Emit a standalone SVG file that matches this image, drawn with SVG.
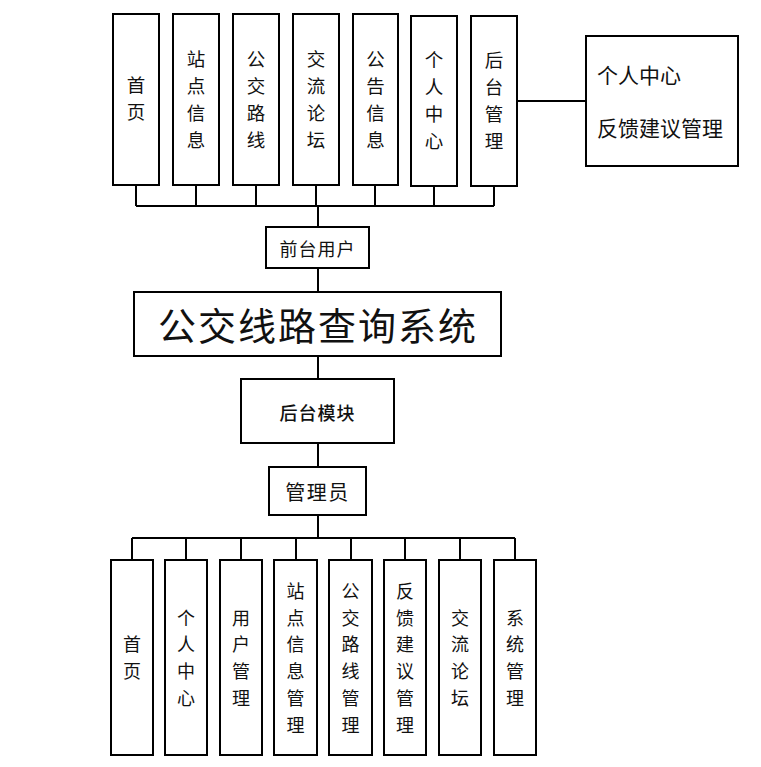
<svg xmlns="http://www.w3.org/2000/svg" width="761" height="767" viewBox="0 0 761 767">
<style>
.box{fill:#fff;stroke:#000;stroke-width:2}
.ln{fill:none;stroke:#000;stroke-width:2}
text{font-family:"Noto Sans CJK SC","Noto Sans",sans-serif;fill:#111;dominant-baseline:central}
.v{font-size:18.5px;text-anchor:middle}
.w{font-size:18px;text-anchor:middle}
.c{text-anchor:middle}
</style>
<rect width="761" height="767" fill="#fff"/>
<g id="connectors">
<path class="ln" d="M136 185V206M196 185V206M256 185V206M316 185V206M375 185V206M434 186V206M494 186V206M136 206H494M318 206V227M318 268V292M318 356V379M318 443V467M318 515V538M132 538H515M132 538V560M186 538V560M241 538V560M296 538V560M351 538V560M405 538V560M460 538V560M515 538V560M517 101H586"/>
</g>
<g id="top1"><rect class="box" x="113" y="14" width="46" height="171"/><text class="v"><tspan x="136" y="84">首</tspan><tspan x="136" y="111">页</tspan></text></g>
<g id="top2"><rect class="box" x="173" y="14" width="46" height="171"/><text class="v"><tspan x="196" y="58">站</tspan><tspan x="196" y="85">点</tspan><tspan x="196" y="112">信</tspan><tspan x="196" y="139">息</tspan></text></g>
<g id="top3"><rect class="box" x="233" y="14" width="46" height="171"/><text class="v"><tspan x="256" y="58">公</tspan><tspan x="256" y="85">交</tspan><tspan x="256" y="112">路</tspan><tspan x="256" y="139">线</tspan></text></g>
<g id="top4"><rect class="box" x="293" y="14" width="46" height="171"/><text class="v"><tspan x="316" y="58">交</tspan><tspan x="316" y="85">流</tspan><tspan x="316" y="112">论</tspan><tspan x="316" y="139">坛</tspan></text></g>
<g id="top5"><rect class="box" x="353" y="14" width="45" height="171"/><text class="v"><tspan x="375.5" y="58">公</tspan><tspan x="375.5" y="85">告</tspan><tspan x="375.5" y="112">信</tspan><tspan x="375.5" y="139">息</tspan></text></g>
<g id="top6"><rect class="box" x="411" y="16" width="46" height="170"/><text class="v"><tspan x="434" y="59">个</tspan><tspan x="434" y="86">人</tspan><tspan x="434" y="113">中</tspan><tspan x="434" y="140">心</tspan></text></g>
<g id="top7"><rect class="box" x="471" y="16" width="46" height="170"/><text class="v"><tspan x="494" y="59">后</tspan><tspan x="494" y="86">台</tspan><tspan x="494" y="113">管</tspan><tspan x="494" y="140">理</tspan></text></g>
<g id="backend-right"><rect class="box" x="586" y="36" width="152" height="130"/><text x="597" y="74" font-size="21">个人中心</text><text x="597" y="127" font-size="21">反馈建议管理</text></g>
<g id="frontuser"><rect class="box" x="266" y="227" width="103" height="41"/><text class="c" x="317.5" y="248" font-size="18" letter-spacing="1">前台用户</text></g>
<g id="system"><rect class="box" x="134" y="292" width="367" height="64"/><text class="c" x="318" y="323" font-size="38" letter-spacing="2">公交线路查询系统</text></g>
<g id="backend"><rect class="box" x="241" y="379" width="153" height="64"/><text class="c" x="317.5" y="412" font-size="18" letter-spacing="1" font-weight="500">后台模块</text></g>
<g id="admin"><rect class="box" x="269" y="467" width="97" height="48"/><text class="c" x="317.5" y="491" font-size="20" letter-spacing="1.5">管理员</text></g>
<g id="b1"><rect class="box" x="111" y="560" width="42" height="195"/><text class="w"><tspan x="132" y="643.4">首</tspan><tspan x="132" y="670.1">页</tspan></text></g>
<g id="b2"><rect class="box" x="165" y="560" width="42" height="195"/><text class="w"><tspan x="186" y="616.7">个</tspan><tspan x="186" y="643.4">人</tspan><tspan x="186" y="670.1">中</tspan><tspan x="186" y="696.8">心</tspan></text></g>
<g id="b3"><rect class="box" x="220" y="560" width="42" height="195"/><text class="w"><tspan x="241" y="616.7">用</tspan><tspan x="241" y="643.4">户</tspan><tspan x="241" y="670.1">管</tspan><tspan x="241" y="696.8">理</tspan></text></g>
<g id="b4"><rect class="box" x="274" y="560" width="43" height="195"/><text class="w"><tspan x="295.5" y="590">站</tspan><tspan x="295.5" y="616.7">点</tspan><tspan x="295.5" y="643.4">信</tspan><tspan x="295.5" y="670.1">息</tspan><tspan x="295.5" y="696.8">管</tspan><tspan x="295.5" y="723.5">理</tspan></text></g>
<g id="b5"><rect class="box" x="329" y="560" width="43" height="195"/><text class="w"><tspan x="350.5" y="590">公</tspan><tspan x="350.5" y="616.7">交</tspan><tspan x="350.5" y="643.4">路</tspan><tspan x="350.5" y="670.1">线</tspan><tspan x="350.5" y="696.8">管</tspan><tspan x="350.5" y="723.5">理</tspan></text></g>
<g id="b6"><rect class="box" x="384" y="560" width="42" height="195"/><text class="w"><tspan x="405" y="590">反</tspan><tspan x="405" y="616.7">馈</tspan><tspan x="405" y="643.4">建</tspan><tspan x="405" y="670.1">议</tspan><tspan x="405" y="696.8">管</tspan><tspan x="405" y="723.5">理</tspan></text></g>
<g id="b7"><rect class="box" x="439" y="560" width="42" height="195"/><text class="w"><tspan x="460" y="616.7">交</tspan><tspan x="460" y="643.4">流</tspan><tspan x="460" y="670.1">论</tspan><tspan x="460" y="696.8">坛</tspan></text></g>
<g id="b8"><rect class="box" x="494" y="560" width="42" height="195"/><text class="w"><tspan x="515" y="616.7">系</tspan><tspan x="515" y="643.4">统</tspan><tspan x="515" y="670.1">管</tspan><tspan x="515" y="696.8">理</tspan></text></g>
</svg>
